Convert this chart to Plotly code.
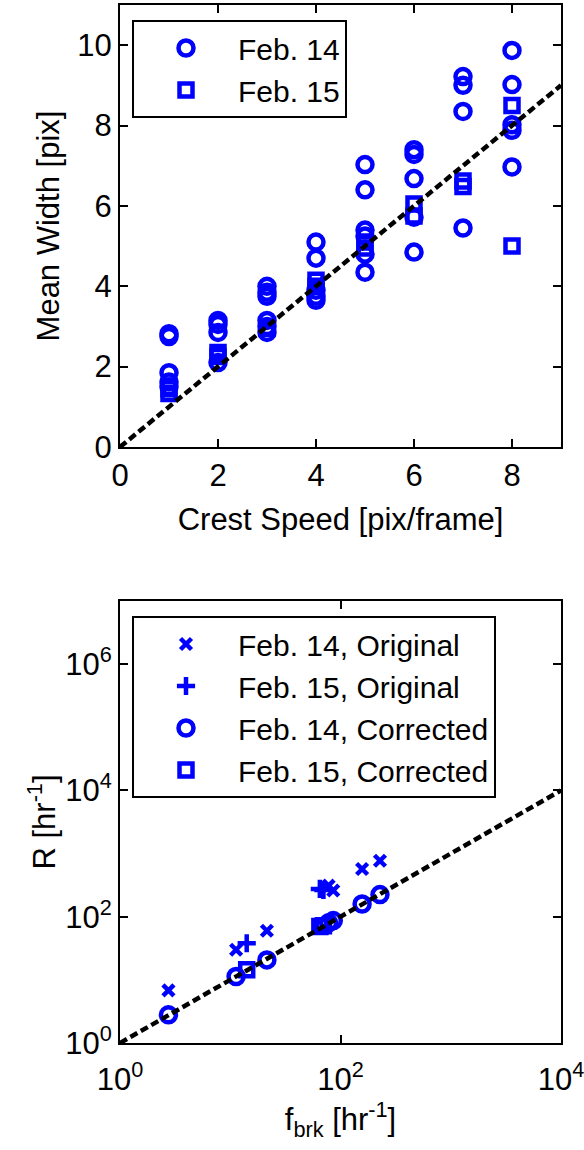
import plotly.graph_objects as go

# ---------------- Top panel data ----------------
speed_feb14 = [1, 1, 1, 1, 1,
               2, 2, 2, 2,
               3, 3, 3, 3, 3, 3,
               4, 4, 4, 4, 4,
               5, 5, 5, 5, 5, 5,
               6, 6, 6, 6, 6,
               7, 7, 7, 7,
               8, 8, 8, 8, 8]
width_feb14 = [2.75, 2.82, 1.85, 1.62, 1.50,
               3.15, 3.05, 2.85, 2.10,
               4.00, 3.85, 3.75, 3.15, 3.00, 2.85,
               5.10, 4.70, 3.90, 3.75, 3.65,
               7.03, 6.40, 5.40, 5.25, 4.80, 4.35,
               7.40, 7.28, 6.68, 5.72, 4.85,
               9.22, 9.00, 8.35, 5.45,
               9.87, 9.02, 8.02, 7.88, 6.97]
speed_feb15 = [1, 1, 2, 2, 3, 4, 4, 5, 5, 6, 6, 7, 7, 8, 8]
width_feb15 = [1.45, 1.33, 2.35, 2.25, 2.95, 4.15, 4.00, 5.10, 4.95,
               6.05, 5.75, 6.62, 6.48, 8.50, 5.00]
ref_line_top = [0, 9]

# ---------------- Bottom panel data ----------------
fbrk_feb14 = [2.75, 11.3, 21.5, 78, 86, 157, 228]
R_orig_feb14 = [6.8, 30, 60, 310, 260, 570, 770]
R_corr_feb14 = [2.8, 11.3, 20.7, 80, 87, 159, 224]
fbrk_feb15 = [14.1, 65, 70]
R_orig_feb15 = [38, 275, 265]
R_corr_feb15 = [14.4, 70, 72]
ref_line_bot = [1, 1e4]

BLUE = "#0000FF"
FONT = "Liberation Sans"
FS = 31

fig = go.Figure()

circ = dict(symbol="circle-open", size=15, color=BLUE, line=dict(width=4.5, color=BLUE))
sq = dict(symbol="square-open", size=13, color=BLUE, line=dict(width=4.5, color=BLUE))

# top panel
fig.add_trace(go.Scatter(x=speed_feb14, y=width_feb14, mode="markers", name="Feb. 14",
                         marker=circ, xaxis="x", yaxis="y", legend="legend", legendgroup="a"))
fig.add_trace(go.Scatter(x=speed_feb15, y=width_feb15, mode="markers", name="Feb. 15",
                         marker=sq, xaxis="x", yaxis="y", legend="legend", legendgroup="b"))
fig.add_trace(go.Scatter(x=ref_line_top, y=ref_line_top, mode="lines", showlegend=False,
                         line=dict(color="black", width=4.5, dash="8px,4px"),
                         xaxis="x", yaxis="y"))

# bottom panel
fig.add_trace(go.Scatter(x=fbrk_feb14, y=R_orig_feb14, mode="markers", name="Feb. 14, Original",
                         marker=dict(symbol="x-thin-open", size=11, color=BLUE, line=dict(width=4.5, color=BLUE)),
                         xaxis="x2", yaxis="y2", legend="legend2", legendgroup="c"))
fig.add_trace(go.Scatter(x=fbrk_feb15, y=R_orig_feb15, mode="markers", name="Feb. 15, Original",
                         marker=dict(symbol="cross-thin-open", size=13, color=BLUE, line=dict(width=4.5, color=BLUE)),
                         xaxis="x2", yaxis="y2", legend="legend2", legendgroup="d"))
fig.add_trace(go.Scatter(x=fbrk_feb14, y=R_corr_feb14, mode="markers", name="Feb. 14, Corrected",
                         marker=circ, xaxis="x2", yaxis="y2", legend="legend2", legendgroup="e"))
fig.add_trace(go.Scatter(x=fbrk_feb15, y=R_corr_feb15, mode="markers", name="Feb. 15, Corrected",
                         marker=sq, xaxis="x2", yaxis="y2", legend="legend2", legendgroup="f"))
fig.add_trace(go.Scatter(x=ref_line_bot, y=ref_line_bot, mode="lines", showlegend=False,
                         line=dict(color="black", width=4.5, dash="8px,4px"),
                         xaxis="x2", yaxis="y2"))

W, H = 584, 1150
xdom = [120 / W, 561 / W]
ydom_top = [1 - 447 / H, 1 - 5 / H]
ydom_bot = [1 - 1043 / H, 1 - 601 / H]

axis_common = dict(showline=True, linecolor="black", linewidth=2, mirror="ticks",
                   ticks="inside", ticklen=8, tickwidth=2, tickcolor="black",
                   showgrid=False, zeroline=False, automargin=False,
                   tickfont=dict(family=FONT, size=FS, color="black"),
                   title_font=dict(family=FONT, size=FS, color="black"))

sup_labels = ["10<sup>0</sup>", "10<sup>2</sup>", "10<sup>4</sup>", "10<sup>6</sup>"]

legend_common = dict(xanchor="left", yanchor="top",
                     bgcolor="white", bordercolor="black", borderwidth=2,
                     font=dict(family=FONT, size=30, color="black"),
                     itemwidth=94, tracegroupgap=0)

fig.update_layout(
    width=W, height=H,
    margin=dict(l=0, r=0, t=0, b=0),
    paper_bgcolor="white", plot_bgcolor="white",
    font=dict(family=FONT, size=FS, color="black"),
    xaxis=dict(domain=xdom, anchor="y", range=[0, 9], tickvals=[0, 2, 4, 6, 8],
               title=dict(text="Crest Speed [pix/frame]", standoff=16), **axis_common),
    yaxis=dict(domain=ydom_top, anchor="x", range=[0, 11], tickvals=[0, 2, 4, 6, 8, 10],
               title=dict(text="Mean Width [pix]", standoff=8), **axis_common),
    xaxis2=dict(domain=xdom, anchor="y2", type="log", range=[0, 4],
                tickvals=[1, 100, 10000], ticktext=sup_labels[:3],
                ticklabeloverflow="allow", ticklabelstandoff=8,
                title=dict(text="f<sub>brk</sub> [hr<sup>-1</sup>]", standoff=0), **axis_common),
    yaxis2=dict(domain=ydom_bot, anchor="x2", type="log", range=[0, 7],
                tickvals=[1, 100, 10000, 1e6], ticktext=sup_labels,
                title=dict(text="R [hr<sup>-1</sup>]", standoff=0), **axis_common),
    legend=dict(x=132 / W, y=1 - 20 / H, **legend_common),
    legend2=dict(x=132 / W, y=1 - 616 / H, **legend_common),
)

fig.write_html("out.html")
